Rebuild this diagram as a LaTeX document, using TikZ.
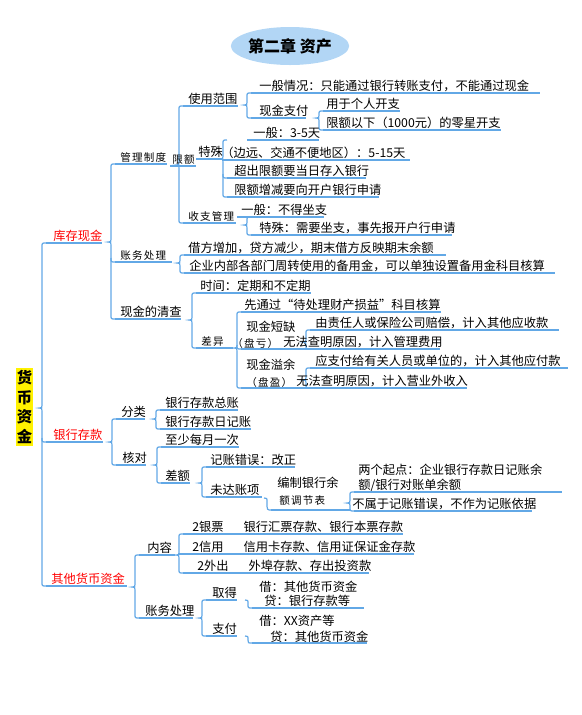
\documentclass[tikz,border=0pt]{standalone}
\usepackage{fontspec}
\setmainfont{Noto Sans CJK SC}
\newfontfamily\spfont[LetterSpace=12]{Noto Sans CJK SC}
\usetikzlibrary{shapes.geometric}
\definecolor{lineblue}{RGB}{98,168,230}
\definecolor{titleblue}{RGB}{178,214,245}
% brace: x, top, bottom, notch
\newcommand{\mbrace}[4]{%
 \draw[ln] (#1+4,#2) .. controls (#1,#2) .. (#1,#2+4) -- (#1,#4-3)
  .. controls (#1,#4) .. (#1-3,#4) .. controls (#1,#4) .. (#1,#4+3)
  -- (#1,#3-4) .. controls (#1,#3) .. (#1+4,#3);}
% branch out of a brace: x, y
\newcommand{\mbranch}[2]{\draw[ln] (#1,#2-4) .. controls (#1,#2) .. (#1+4,#2);}
% single child tail: x, y start, y end
\newcommand{\mtail}[3]{\draw[ln] (#1,#2) .. controls (#1+3,#2) .. (#1+3,#2+4)
  .. controls (#1+3,#3) .. (#1+7,#3);}

\begin{document}
\begin{tikzpicture}[x=.75pt,y=-.75pt,
 ln/.style={lineblue,line width=.9pt},
 txt/.style={anchor=base west,inner sep=0pt,font=\fontsize{9.2}{11}\selectfont},
 sp/.style={txt,font=\spfont\fontsize{7.9}{9}\selectfont},
 lv1/.style={txt,text=red}]
 \useasboundingbox (0,0) rectangle (582,715);
 % title and root
 \node[ellipse,fill=titleblue,minimum width=87.75pt,minimum height=28.5pt,inner sep=0pt,
   font=\fontsize{12}{14}\selectfont\bfseries] (title) at (290,46) {第二章 资产};
 \node[fill=yellow,minimum width=12.75pt,minimum height=58.5pt,inner sep=0pt,align=center,
   font=\fontsize{11.5}{14.6}\selectfont\bfseries] (root) at (24.5,407) {货\\币\\资\\金};
 \mbrace{42}{243}{586}{408}
 \mbranch{42}{442}
 \node[lv1] (kc) at (53,240) {库存现金}; \draw[ln] (46,243) -- (102,243);
 \node[lv1] (yh) at (53,439) {银行存款}; \draw[ln] (46,442) -- (103,442);
 \node[lv1] (qt) at (51,583) {其他货币资金}; \draw[ln] (46,586) -- (127,586);

 % 库存现金
 \mbrace{111}{164}{319}{242}
 \mbranch{111}{262}
 \node[sp] (gl) at (120,161) {管理制度}; \draw[ln] (115,164) -- (167,164);
 \node[sp] (zw) at (120,259) {账务处理}; \draw[ln] (115,262) -- (172,262);
 \node[txt] (qc) at (120,316) {现金的清查}; \draw[ln] (115,319) -- (181,319);

 % 管理制度
 \mbrace{179}{106}{223}{165}
 \node[txt] (sy) at (188,103) {使用范围}; \draw[ln] (183,106) -- (238,106);
 \node[sp] (xe) at (172,163) {限额}; \draw[ln] (170,166) -- (196,166);
 \node[sp] (sz) at (188,220) {收支管理}; \draw[ln] (183,223) -- (236,223);

 \mbrace{247}{93}{118}{105}
 \node[txt] (yb) at (259,90) {一般情况：只能通过银行转账支付，不能通过现金}; \draw[ln] (251,93) -- (540,93);
 \node[txt] (xj) at (259,115) {现金支付}; \draw[ln] (251,118) -- (306,118);
 \mbrace{319}{111}{130}{118}
 \node[txt] (gr) at (326,108) {用于个人开支}; \draw[ln] (323,111) -- (400,111);
 \node[txt] (ly) at (326,127) {限额以下（1000元）的零星开支}; \draw[ln] (323,130) -- (501,130);

 % 限额
 \node[txt] (ts) at (198,156) {特殊}; \draw[ln] (196,159) -- (223,159);
 \mbrace{223}{140}{197}{159}
 \mbranch{223}{178}
 \node[txt] (yb2) at (253,137) {一般：3-5天}; \draw[ln] (247,140) -- (319,140);
 \node[txt] (by) at (221,157) {（边远、交通不便地区）：5-15天}; \draw[ln] (223,160) -- (410,160);
 \node[txt] (cc) at (234,175) {超出限额要当日存入银行}; \draw[ln] (227,178) -- (366,178);
 \node[txt] (zj) at (234,194) {限额增减要向开户银行申请}; \draw[ln] (227,197) -- (379,197);

 % 收支管理
 \mbrace{247}{217}{235}{225}
 \node[txt] (bd) at (241,214) {一般：不得坐支}; \draw[ln] (237,217) -- (324,217);
 \node[txt] (xy) at (259,232) {特殊：需要坐支，事先报开户行申请}; \draw[ln] (251,235) -- (452,235);

 % 账务处理
 \mbrace{180}{255}{273}{263}
 \node[txt] (jf) at (188,252) {借方增加，贷方减少，期末借方反映期末余额}; \draw[ln] (184,255) -- (446,255);
 \node[txt] (bj) at (189,270) {企业内部各部门周转使用的备用金，可以单独设置备用金科目核算}; \draw[ln] (184,273) -- (555,273);

 % 现金的清查
 \mbrace{192}{293}{348}{320}
 \node[txt] (sj) at (200,290) {时间：定期和不定期}; \draw[ln] (196,293) -- (311,293);
 \node[sp] (cy) at (201,345) {差异}; \draw[ln] (196,348) -- (233,348);
 \mbrace{237}{312}{388}{348}
 \mbranch{237}{349}
 \node[txt] (xt) at (244,309) {先通过“待处理财产损益”科目核算}; \draw[ln] (241,312) -- (441,312);
 \node[txt] (dq) at (246,331) {现金短缺};
 \node[sp] (pk) at (232,347) {（盘亏）};
 \draw[ln] (241,349) -- (440,349);
 \mbrace{306}{330}{349}{342}
 \node[txt] (zr) at (315,327) {由责任人或保险公司赔偿，计入其他应收款}; \draw[ln] (310,330) -- (559,330);
 \node[txt] (gf) at (283,346) {无法查明原因，计入管理费用};
 \node[txt] (yy) at (246,369) {现金溢余};
 \node[sp] (py) at (246,386) {（盘盈）};
 \mbrace{306}{368}{388}{380}
 \node[txt] (yf) at (315,365) {应支付给有关人员或单位的，计入其他应付款}; \draw[ln] (310,368) -- (568,368);
 \node[txt] (ys) at (296,385) {无法查明原因，计入营业外收入}; \draw[ln] (241,388) -- (467,388);

 % 银行存款
 \mbrace{112}{419}{465}{442}
 \node[txt] (fl) at (121,416) {分类}; \draw[ln] (116,419) -- (145,419);
 \node[txt] (hd) at (122,462) {核对}; \draw[ln] (116,465) -- (146,465);
 \mbrace{156}{410}{429}{419}
 \node[txt] (zz) at (165,407) {银行存款总账}; \draw[ln] (160,410) -- (238,410);
 \node[txt] (rj) at (165,426) {银行存款日记账}; \draw[ln] (160,429) -- (251,429);
 \mbrace{157}{447}{483}{465}
 \node[txt] (my) at (165,444) {至少每月一次}; \draw[ln] (161,447) -- (239,447);
 \node[txt] (ce) at (165,480) {差额}; \draw[ln] (161,483) -- (190,483);
 \mbrace{202}{467}{497}{483}
 \node[txt] (jz) at (210,464) {记账错误：改正}; \draw[ln] (206,467) -- (295,467);
 \node[txt] (wd) at (210,494) {未达账项}; \draw[ln] (206,497) -- (262,497);
 \mtail{264}{498}{510}
 \node[txt] (bz) at (277,487) {编制银行余};
 \node[sp] (tj) at (279,504) {额调节表};
 \draw[ln] (271,510) -- (350,510);
 \mbrace{350}{492}{511}{503}
 \node[txt] (lg) at (358,474) {两个起点：企业银行存款日记账余};
 \node[txt] (lg2) at (358,489) {额/银行对账单余额};
 \draw[ln] (354,492) -- (562,492);
 \node[txt] (bs) at (352,508) {不属于记账错误，不作为记账依据}; \draw[ln] (354,511) -- (532,511);

 % 其他货币资金
 \mbrace{135}{555}{618}{587}
 \node[txt] (nr) at (147,552) {内容}; \draw[ln] (139,555) -- (175,555);
 \node[txt] (zc) at (145,615) {账务处理}; \draw[ln] (139,618) -- (193,618);
 \mbrace{179}{534}{573}{555}
 \node[txt] (yp) at (192,531) {2银票\hspace{15pt}银行汇票存款、银行本票存款}; \draw[ln] (183,534) -- (403,534);
 \node[txt] (xk) at (192,551) {2信用\hspace{15pt}信用卡存款、信用证保证金存款}; \draw[ln] (179,554) -- (414,554);
 \node[txt] (wc) at (197,570) {2外出\hspace{15pt}外埠存款、存出投资款}; \draw[ln] (183,573) -- (369,573);
 \mbrace{202}{600}{636}{618}
 \node[txt] (qd) at (212,597) {取得}; \draw[ln] (206,600) -- (237,600);
 \node[txt] (zf) at (212,633) {支付}; \draw[ln] (206,636) -- (237,636);
 \mtail{245}{600}{608}
 \node[txt] (j1) at (259,591) {借：其他货币资金};
 \node[txt] (d1) at (264,605) {贷：银行存款等};
 \draw[ln] (252,608) -- (364,608);
 \mtail{245}{636}{643}
 \node[txt] (j2) at (259,625) {借：XX资产等};
 \node[txt] (d2) at (270,641) {贷：其他货币资金};
 \draw[ln] (252,643) -- (367,643);
\end{tikzpicture}
\end{document}
